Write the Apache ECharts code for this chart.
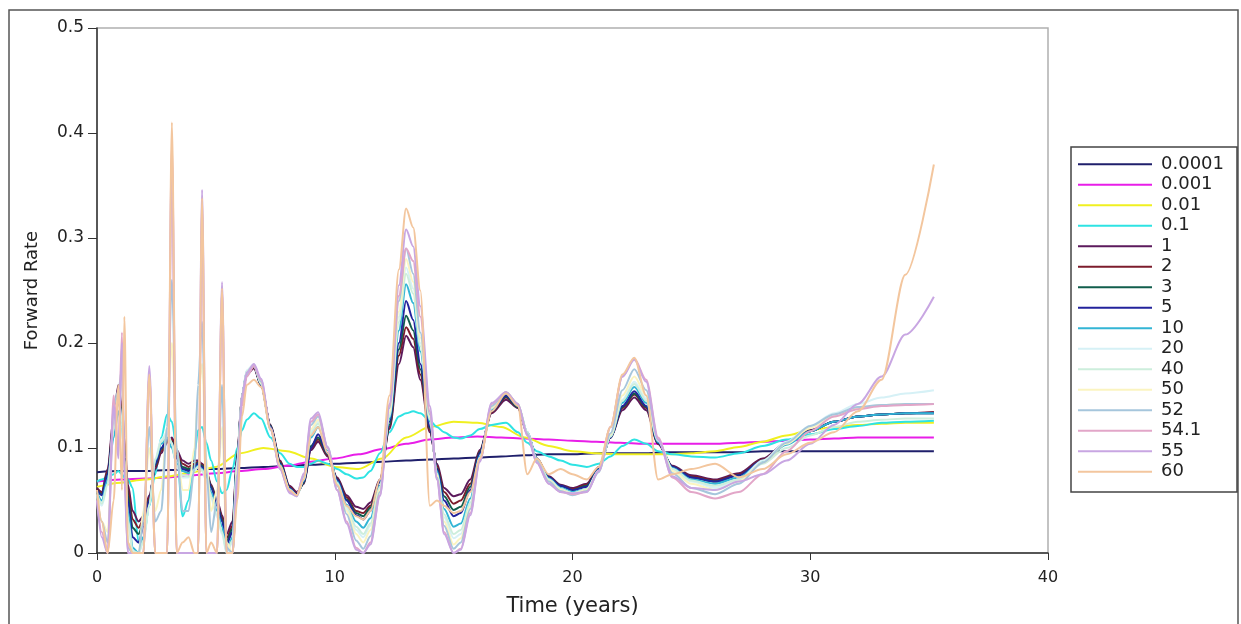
<!DOCTYPE html>
<html>
<head>
<meta charset="utf-8">
<script src="https://cdn.jsdelivr.net/npm/echarts@6.0.0/dist/echarts.min.js"></script>
<style>
html,body{margin:0;padding:0;background:#fff;}
#chart{width:1241px;height:624px;}
</style>
</head>
<body>
<div id="chart"></div>
<script>
// ---- DATA ----
const seriesNames = ['0.0001','0.001','0.01','0.1','1','2','3','5','10','20','40','50','52','54.1','55','60'];
const xTicks = [0, 10, 20, 30, 40];
const yTicks = [0, 0.1, 0.2, 0.3, 0.4, 0.5];

// coarse time grid for the smooth low-rate curves
const tCoarse = [0,1,2,3,4,5,6,7,8,9,10,11,12,13,14,15,16,17,18,19,20,21,22,23,24,25,26,27,28,29,30,31,32,33,34,35.2];
const r0001 = [0.077,0.078,0.078,0.079,0.080,0.080,0.081,0.082,0.083,0.084,0.085,0.086,0.087,0.088,0.089,0.090,0.091,0.092,0.093,0.094,0.094,0.095,0.095,0.095,0.096,0.096,0.096,0.096,0.097,0.097,0.097,0.097,0.097,0.097,0.097,0.097];
const r001 = [0.068,0.070,0.071,0.072,0.074,0.076,0.078,0.080,0.083,0.087,0.090,0.094,0.099,0.104,0.108,0.110,0.111,0.110,0.109,0.108,0.107,0.106,0.105,0.104,0.104,0.104,0.104,0.105,0.106,0.107,0.108,0.109,0.110,0.110,0.110,0.110];
const r01 = [0.063,0.067,0.070,0.073,0.077,0.082,0.095,0.100,0.097,0.090,0.082,0.080,0.090,0.110,0.120,0.125,0.124,0.120,0.110,0.102,0.097,0.095,0.094,0.094,0.094,0.095,0.097,0.101,0.106,0.112,0.117,0.120,0.122,0.123,0.124,0.124];

// fine time grid for the oscillating curves
const tFine = [0,0.2,0.45,0.7,0.9,1.05,1.15,1.3,1.5,1.75,1.95,2.2,2.45,2.7,2.95,3.15,3.35,3.6,3.85,4.1,4.25,4.42,4.6,4.8,5.05,5.26,5.45,5.7,5.9,6.1,6.3,6.6,
  6.9,7.3,7.7,8.1,8.4,8.7,9.0,9.3,9.7,10.1,10.5,10.9,11.2,11.5,11.9,12.3,12.7,13.0,13.3,13.6,14.0,14.3,14.6,15.0,15.3,15.7,16.1,16.6,17.2,17.7,18.1,18.5,19.0,19.5,20.0,20.6,21.1,21.6,22.1,22.6,23.1,23.6,24.2,25.0,26.0,27.0,28.0,29.0,30.0,31.0,32.0,33.0,34.0,35.2];

const r1e1 = [0.068,0.070,0.072,0.075,0.078,0.075,0.072,0.070,0.062,0.010,0.015,0.045,0.075,0.110,0.132,0.125,0.100,0.035,0.050,0.095,0.117,0.120,0.105,0.088,0.068,0.057,0.060,0.080,0.100,0.117,0.127,0.133,
  0.128,0.110,0.095,0.085,0.082,0.082,0.085,0.088,0.085,0.080,0.075,0.071,0.072,0.078,0.095,0.115,0.130,0.133,0.135,0.133,0.126,0.120,0.115,0.110,0.109,0.112,0.118,0.122,0.124,0.115,0.105,0.097,0.092,0.088,0.084,0.082,0.085,0.092,0.102,0.108,0.104,0.097,0.094,0.092,0.091,0.095,0.102,0.108,0.113,0.118,0.121,0.124,0.125,0.126];
const r1 = [0.062,0.058,0.080,0.130,0.160,0.140,0.110,0.065,0.040,0.030,0.035,0.055,0.080,0.095,0.105,0.110,0.098,0.088,0.085,0.088,0.088,0.085,0.078,0.065,0.050,0.036,0.018,0.030,0.095,0.150,0.170,0.176,
  0.160,0.122,0.088,0.064,0.058,0.066,0.098,0.106,0.092,0.072,0.055,0.044,0.042,0.048,0.070,0.118,0.180,0.207,0.196,0.165,0.115,0.085,0.062,0.054,0.056,0.070,0.098,0.133,0.146,0.138,0.114,0.090,0.073,0.065,0.062,0.066,0.082,0.110,0.136,0.148,0.136,0.104,0.083,0.074,0.070,0.076,0.090,0.105,0.117,0.125,0.130,0.132,0.133,0.134];
const r2 = [0.061,0.057,0.078,0.125,0.155,0.135,0.105,0.060,0.032,0.024,0.032,0.053,0.082,0.097,0.106,0.108,0.095,0.085,0.082,0.085,0.087,0.084,0.077,0.064,0.048,0.034,0.014,0.026,0.093,0.150,0.171,0.177,
  0.160,0.121,0.087,0.063,0.057,0.067,0.100,0.108,0.093,0.071,0.053,0.040,0.038,0.045,0.069,0.120,0.188,0.215,0.204,0.170,0.117,0.083,0.058,0.047,0.050,0.066,0.097,0.134,0.148,0.139,0.114,0.090,0.072,0.064,0.061,0.065,0.081,0.110,0.138,0.151,0.138,0.104,0.082,0.073,0.069,0.075,0.089,0.104,0.116,0.125,0.130,0.132,0.133,0.134];
const r3 = [0.060,0.056,0.076,0.122,0.150,0.132,0.102,0.055,0.024,0.018,0.028,0.051,0.084,0.099,0.107,0.106,0.092,0.082,0.080,0.083,0.086,0.083,0.076,0.063,0.046,0.032,0.011,0.023,0.091,0.150,0.172,0.178,
  0.160,0.121,0.086,0.062,0.056,0.067,0.102,0.110,0.094,0.070,0.051,0.038,0.035,0.043,0.068,0.122,0.194,0.226,0.212,0.175,0.119,0.081,0.054,0.041,0.044,0.063,0.096,0.135,0.149,0.139,0.114,0.090,0.072,0.064,0.060,0.064,0.080,0.110,0.139,0.152,0.139,0.105,0.082,0.072,0.068,0.074,0.088,0.104,0.116,0.125,0.130,0.132,0.133,0.133];
const r5 = [0.060,0.055,0.075,0.120,0.145,0.130,0.100,0.050,0.015,0.010,0.025,0.050,0.085,0.100,0.108,0.105,0.090,0.080,0.078,0.082,0.085,0.082,0.075,0.062,0.045,0.030,0.008,0.020,0.090,0.150,0.172,0.178,
  0.160,0.120,0.085,0.062,0.056,0.068,0.100,0.113,0.095,0.070,0.050,0.036,0.032,0.040,0.068,0.125,0.200,0.240,0.222,0.180,0.120,0.080,0.050,0.035,0.038,0.060,0.095,0.135,0.150,0.140,0.115,0.090,0.072,0.064,0.060,0.063,0.080,0.110,0.140,0.154,0.140,0.105,0.082,0.072,0.068,0.074,0.088,0.104,0.116,0.125,0.130,0.132,0.133,0.133];
const r10 = [0.058,0.050,0.070,0.110,0.135,0.120,0.090,0.040,0.005,0.000,0.015,0.045,0.088,0.104,0.110,0.100,0.085,0.078,0.076,0.080,0.083,0.080,0.072,0.058,0.040,0.025,0.002,0.015,0.088,0.150,0.173,0.179,
  0.161,0.119,0.084,0.061,0.055,0.069,0.110,0.120,0.098,0.068,0.046,0.030,0.024,0.033,0.064,0.128,0.212,0.256,0.238,0.192,0.125,0.078,0.042,0.025,0.028,0.052,0.092,0.137,0.152,0.141,0.115,0.090,0.071,0.062,0.058,0.061,0.079,0.111,0.143,0.158,0.143,0.106,0.081,0.070,0.066,0.072,0.087,0.103,0.116,0.125,0.130,0.132,0.133,0.133];
const r20 = [0.055,0.045,0.065,0.120,0.150,0.125,0.085,0.030,0.000,0.000,0.010,0.045,0.090,0.108,0.115,0.105,0.082,0.072,0.072,0.078,0.082,0.078,0.068,0.052,0.034,0.018,0.000,0.010,0.086,0.150,0.174,0.180,
  0.162,0.118,0.082,0.060,0.054,0.071,0.116,0.125,0.100,0.066,0.042,0.022,0.015,0.026,0.062,0.132,0.225,0.272,0.252,0.200,0.128,0.075,0.034,0.014,0.018,0.046,0.090,0.138,0.153,0.142,0.115,0.089,0.070,0.061,0.057,0.060,0.078,0.112,0.146,0.163,0.147,0.108,0.080,0.068,0.062,0.070,0.088,0.106,0.121,0.133,0.142,0.148,0.152,0.155];
const r40 = [0.056,0.047,0.066,0.118,0.148,0.124,0.086,0.032,0.002,0.000,0.012,0.046,0.089,0.106,0.113,0.104,0.083,0.074,0.073,0.079,0.082,0.079,0.070,0.054,0.036,0.020,0.001,0.012,0.087,0.150,0.173,0.179,
  0.161,0.118,0.083,0.060,0.055,0.070,0.114,0.123,0.099,0.067,0.044,0.025,0.018,0.028,0.063,0.130,0.220,0.266,0.247,0.197,0.127,0.076,0.037,0.018,0.022,0.048,0.091,0.138,0.153,0.141,0.115,0.089,0.070,0.061,0.057,0.061,0.078,0.111,0.145,0.161,0.145,0.107,0.080,0.069,0.064,0.070,0.085,0.100,0.112,0.120,0.125,0.127,0.128,0.128];
const r50 = [0.055,0.030,0.020,0.130,0.150,0.160,0.090,0.010,0.000,0.000,0.040,0.100,0.040,0.060,0.120,0.200,0.100,0.060,0.060,0.100,0.150,0.180,0.090,0.040,0.060,0.120,0.010,0.000,0.080,0.150,0.170,0.178,
  0.162,0.118,0.082,0.060,0.054,0.072,0.118,0.127,0.100,0.065,0.040,0.018,0.010,0.022,0.060,0.134,0.230,0.280,0.258,0.205,0.130,0.074,0.030,0.008,0.014,0.044,0.090,0.139,0.153,0.142,0.114,0.088,0.069,0.060,0.056,0.060,0.078,0.113,0.150,0.168,0.150,0.108,0.078,0.066,0.060,0.068,0.086,0.104,0.119,0.130,0.138,0.141,0.142,0.142];
const r52 = [0.055,0.030,0.010,0.140,0.155,0.175,0.090,0.005,0.000,0.000,0.030,0.120,0.030,0.040,0.120,0.260,0.100,0.040,0.040,0.080,0.160,0.220,0.080,0.020,0.050,0.160,0.005,0.000,0.075,0.150,0.170,0.178,
  0.163,0.117,0.081,0.059,0.054,0.073,0.122,0.130,0.101,0.064,0.037,0.012,0.004,0.016,0.058,0.138,0.240,0.290,0.266,0.210,0.132,0.072,0.026,0.004,0.010,0.042,0.089,0.140,0.153,0.142,0.114,0.088,0.068,0.059,0.055,0.059,0.077,0.114,0.155,0.175,0.155,0.108,0.076,0.062,0.056,0.066,0.086,0.105,0.121,0.132,0.139,0.141,0.142,0.142];
const r541 = [0.050,0.020,0.000,0.150,0.100,0.210,0.080,0.000,0.000,0.000,0.000,0.170,0.000,0.000,0.000,0.390,0.000,0.000,0.000,0.000,0.000,0.330,0.000,0.000,0.000,0.250,0.000,0.000,0.060,0.140,0.168,0.178,
  0.165,0.118,0.080,0.058,0.055,0.075,0.125,0.132,0.100,0.060,0.030,0.005,0.000,0.010,0.055,0.140,0.245,0.290,0.278,0.225,0.135,0.070,0.020,0.000,0.004,0.038,0.088,0.142,0.153,0.142,0.112,0.086,0.066,0.058,0.056,0.058,0.078,0.120,0.168,0.185,0.165,0.110,0.072,0.058,0.052,0.058,0.075,0.097,0.116,0.130,0.137,0.140,0.141,0.142];
const r55 = [0.050,0.015,0.000,0.140,0.090,0.200,0.070,0.000,0.000,0.000,0.000,0.178,0.000,0.000,0.000,0.380,0.000,0.000,0.000,0.000,0.000,0.346,0.000,0.000,0.000,0.258,0.000,0.000,0.070,0.150,0.172,0.180,
  0.166,0.119,0.080,0.057,0.054,0.076,0.128,0.134,0.101,0.060,0.028,0.003,0.000,0.008,0.054,0.142,0.255,0.308,0.292,0.235,0.140,0.070,0.018,0.000,0.003,0.036,0.087,0.143,0.153,0.142,0.112,0.086,0.066,0.058,0.057,0.058,0.078,0.120,0.168,0.184,0.163,0.108,0.073,0.062,0.060,0.068,0.075,0.088,0.104,0.122,0.142,0.168,0.208,0.244];
const r60 = [0.060,0.030,0.000,0.050,0.160,0.060,0.225,0.010,0.000,0.000,0.000,0.170,0.000,0.000,0.000,0.410,0.000,0.010,0.015,0.000,0.000,0.338,0.000,0.010,0.000,0.252,0.000,0.000,0.050,0.130,0.160,0.165,
  0.158,0.118,0.083,0.060,0.055,0.070,0.112,0.120,0.095,0.065,0.045,0.035,0.032,0.040,0.070,0.150,0.270,0.328,0.310,0.250,0.045,0.050,0.045,0.038,0.040,0.058,0.090,0.135,0.152,0.140,0.075,0.090,0.075,0.080,0.075,0.070,0.082,0.120,0.170,0.186,0.150,0.070,0.075,0.080,0.085,0.072,0.080,0.094,0.105,0.115,0.135,0.165,0.265,0.370];

const seriesValues = [r0001, r001, r01, r1e1, r1, r2, r3, r5, r10, r20, r40, r50, r52, r541, r55, r60];
const seriesTimes  = [tCoarse, tCoarse, tCoarse, tFine, tFine, tFine, tFine, tFine, tFine, tFine, tFine, tFine, tFine, tFine, tFine, tFine];

// ---- STYLE ----
const colors = ['#1f1f6b','#e81ee8','#f0f020','#2ee3e3','#5c1a5c','#7d1c2c','#115e4c','#23239c','#33b5d5','#d6f1f6','#cdeedc','#fbf4c0','#a6c6dc','#e2a6c8','#c8a6e2','#f3c69e'];
const FONT = 'DejaVu Sans';

seriesValues.forEach((v, i) => {
  if (v.length !== seriesTimes[i].length) console.error('length mismatch', seriesNames[i], v.length, seriesTimes[i].length);
});

const series = seriesNames.map((name, i) => ({
  name: name,
  type: 'line',
  data: seriesTimes[i].map((t, k) => [t, seriesValues[i][k]]),
  symbol: 'none',
  smooth: 0.3,
  smoothMonotone: 'x',
  clip: true,
  lineStyle: { width: 2, color: colors[i] },
  itemStyle: { color: colors[i] },
  z: 2 + i,
  animation: false
}));

const chart = echarts.init(document.getElementById('chart'), null, { renderer: 'canvas' });
chart.setOption({
  animation: false,
  backgroundColor: '#fff',
  textStyle: { fontFamily: FONT },
  grid: { left: 97, right: 193, top: 28, bottom: 71, show: true, borderColor: '#b0b0b0', borderWidth: 1.5, backgroundColor: 'transparent' },
  xAxis: {
    type: 'value', min: xTicks[0], max: xTicks[xTicks.length - 1], interval: 10,
    name: 'Time (years)', nameLocation: 'middle', nameGap: 43,
    nameTextStyle: { fontFamily: FONT, fontSize: 21, color: '#222' },
    axisLine: { show: true, onZero: false, lineStyle: { color: '#333', width: 1.5 } },
    axisTick: { show: true, length: 7, lineStyle: { color: '#333' } },
    axisLabel: { fontFamily: FONT, fontSize: 16, color: '#222', margin: 17 },
    splitLine: { show: false }
  },
  yAxis: {
    type: 'value', min: yTicks[0], max: yTicks[yTicks.length - 1], interval: 0.1,
    name: 'Forward Rate', nameLocation: 'middle', nameGap: 56, nameRotate: 90,
    nameTextStyle: { fontFamily: FONT, fontSize: 18, color: '#222' },
    axisLine: { show: true, onZero: false, lineStyle: { color: '#333', width: 1.5 } },
    axisTick: { show: true, length: 9, lineStyle: { color: '#333' } },
    axisLabel: { fontFamily: FONT, fontSize: 17, color: '#222', margin: 13 },
    splitLine: { show: false }
  },
  legend: {
    orient: 'vertical', left: 1078, top: 154,
    data: seriesNames,
    icon: 'rect', itemWidth: 74, itemHeight: 2, itemGap: 0,
    padding: 0,
    textStyle: { fontFamily: FONT, fontSize: 18, color: '#222', lineHeight: 20.5, height: 20.5, padding: [0, 0, 0, 4] },
    selectedMode: false
  },
  graphic: [
    { type: 'rect', shape: { x: 9, y: 10, width: 1229, height: 620 }, style: { fill: 'none', stroke: '#555', lineWidth: 1.5 }, silent: true, z: 100 },
    { type: 'rect', shape: { x: 1071, y: 147, width: 166, height: 345 }, style: { fill: 'none', stroke: '#444', lineWidth: 1.5 }, silent: true, z: 100 }
  ],
  series: series
});
</script>
</body>
</html>
